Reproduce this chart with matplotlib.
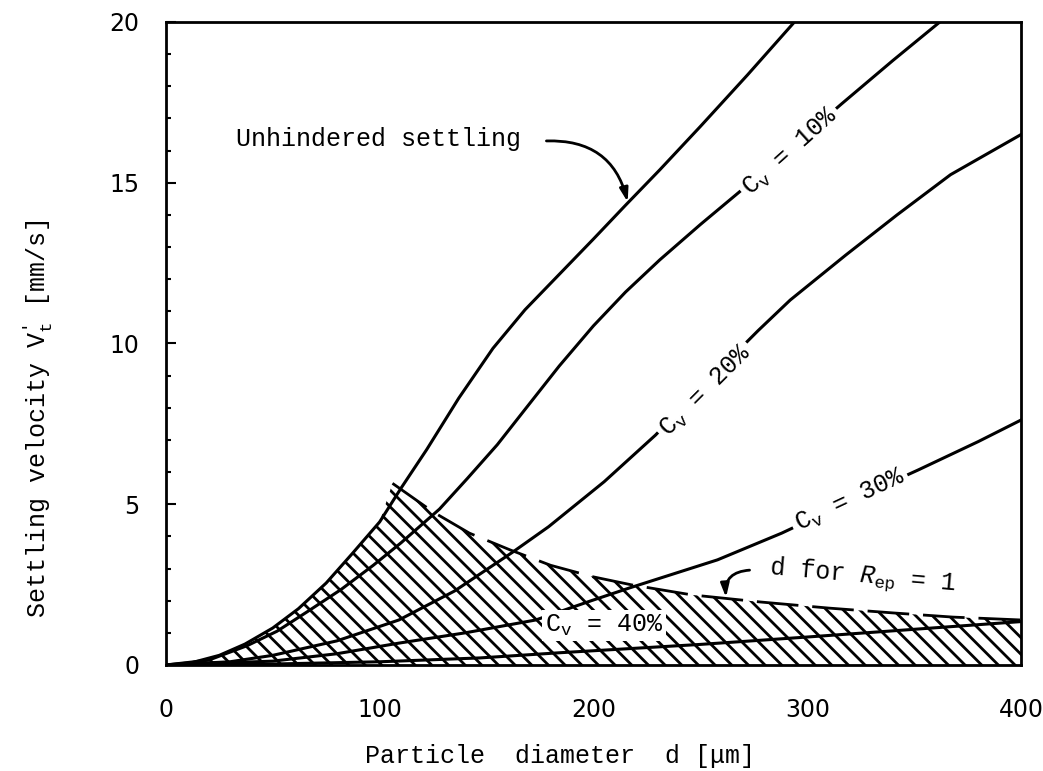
import matplotlib
matplotlib.use("Agg")
import matplotlib.pyplot as plt
import numpy as np
from matplotlib.ticker import MultipleLocator

plt.rcParams['mathtext.fontset'] = 'custom'
plt.rcParams['mathtext.rm'] = 'Liberation Mono'
plt.rcParams['mathtext.it'] = 'Liberation Mono:italic'
plt.rcParams['hatch.linewidth'] = 2.0
plt.rcParams['hatch.color'] = 'black'

# settling velocity curves, d in um, v in mm/s
unhindered_d = np.array([0, 12, 25, 37, 50, 62, 75, 87, 100, 110, 122, 137, 153, 168, 184,
                         200, 215, 231, 250, 272, 294])
unhindered_v = np.array([0, 0.07, 0.3, 0.65, 1.15, 1.75, 2.55, 3.45, 4.45, 5.5, 6.7, 8.3, 9.85,
                         11.05, 12.15, 13.25, 14.3, 15.4, 16.75, 18.35, 20.0])

cv10_d = np.array([0, 20, 38, 52, 66, 82, 97, 110, 128, 141, 155, 168, 184, 200, 215, 231,
                   250, 268, 290, 316, 340, 362])
cv10_v = np.array([0, 0.15, 0.6, 1.05, 1.65, 2.35, 3.1, 3.8, 4.85, 5.8, 6.85, 7.95, 9.3, 10.55,
                   11.6, 12.6, 13.7, 14.7, 15.95, 17.45, 18.8, 20.0])

cv20_d = np.array([0, 30, 50, 80, 109, 135, 162, 179, 205, 229, 253, 277, 292, 318, 342, 367, 400])
cv20_v = np.array([0, 0.1, 0.3, 0.75, 1.4, 2.3, 3.5, 4.3, 5.7, 7.15, 8.8, 10.4, 11.35, 12.75,
                   14.0, 15.25, 16.5])

cv30_d = np.array([0, 50, 80, 109, 140, 173, 199, 217, 258, 288, 320, 352, 380, 400])
cv30_v = np.array([0, 0.12, 0.35, 0.68, 1.0, 1.4, 2.0, 2.4, 3.27, 4.1, 5.1, 6.07, 6.95, 7.62])

cv40_d = np.array([0, 50, 100, 147, 184, 250, 300, 350, 400])
cv40_v = np.array([0, 0.03, 0.1, 0.22, 0.38, 0.64, 0.87, 1.11, 1.35])

# particle size where R_ep = 1
rep_d = np.array([106, 125, 142, 161, 180, 200, 218, 246, 278, 310, 340, 368, 400])
rep_v = np.array([5.65, 4.76, 4.1, 3.58, 3.1, 2.74, 2.49, 2.18, 1.96, 1.77, 1.62, 1.49, 1.40])

x_ticks = [0, 100, 200, 300, 400]
y_ticks = [0, 5, 10, 15, 20]

fig = plt.figure(figsize=(10.43, 7.71), dpi=100)
ax = fig.add_axes([0.159, 0.1375, 0.82, 0.834])

# hatched laminar region under the R_ep = 1 line
keep = unhindered_d < rep_d[0]
bound_d = np.concatenate([unhindered_d[keep], rep_d])
bound_v = np.concatenate([unhindered_v[keep], rep_v])
ax.fill_between(bound_d, 0, bound_v, facecolor='none', edgecolor='black',
                hatch='\\\\', linewidth=0, zorder=1)

for d, v in [(unhindered_d, unhindered_v), (cv10_d, cv10_v), (cv20_d, cv20_v),
             (cv30_d, cv30_v), (cv40_d, cv40_v)]:
    ax.plot(d, v, color='black', lw=2.2, zorder=2, solid_joinstyle='round')

ax.plot(rep_d, rep_v, color='black', lw=2.0, dashes=(15, 5), zorder=2)

mono = 'Liberation Mono'
box = dict(boxstyle='square,pad=0.15', fc='white', ec='none')
ax.text(292, 15.96, r'C$_{\rm v}$ = 10%', family=mono, fontsize=18, rotation=42,
        ha='center', va='center', rotation_mode='anchor', bbox=box, zorder=4)
ax.text(252.8, 8.5, r'C$_{\rm v}$ = 20%', family=mono, fontsize=18, rotation=45,
        ha='center', va='center', rotation_mode='anchor', bbox=box, zorder=4)
ax.text(320, 5.1, r'C$_{\rm v}$ = 30%', family=mono, fontsize=18, rotation=25,
        ha='center', va='center', rotation_mode='anchor', bbox=box, zorder=4)
ax.text(205, 1.22, r'C$_{\rm v}$ = 40%', family=mono, fontsize=18,
        ha='center', va='center', bbox=dict(boxstyle='square,pad=0.12', fc='white', ec='none'),
        zorder=4)
ax.text(326, 2.75, r'd for $R_{\rm ep}$ = $\mathit{1}$', family=mono, fontsize=18,
        rotation=-5, ha='center', va='center', rotation_mode='anchor', zorder=4)
ax.text(33, 16.14, 'Unhindered settling', family=mono, fontsize=18, ha='left', va='baseline')

arrow = dict(arrowstyle='-|>,head_length=0.8,head_width=0.25', color='black', lw=2,
             shrinkA=0, shrinkB=0)
ax.annotate('', xy=(216, 14.4), xytext=(178, 16.3),
            arrowprops=dict(arrow, connectionstyle='arc3,rad=-0.4'))
ax.annotate('', xy=(262, 2.1), xytext=(273, 2.95),
            arrowprops=dict(arrow, connectionstyle='arc3,rad=0.5'))

ax.set_xlim(0, 400)
ax.set_ylim(0, 20)
ax.set_xticks(x_ticks)
ax.set_yticks(y_ticks)
ax.yaxis.set_minor_locator(MultipleLocator(1))
ax.tick_params(axis='x', length=0, pad=24, labelsize=17)
ax.tick_params(axis='y', which='major', direction='in', length=7, width=1.5, pad=19, labelsize=17)
ax.tick_params(axis='y', which='minor', direction='in', length=3.6, width=1.5)
for s in ax.spines.values():
    s.set_linewidth(2.0)

fig.text(0.537, 0.02, 'Particle  diameter  d [\u03bcm]', family=mono, fontsize=18,
         ha='center', va='center')
fig.text(0.036, 0.457, r"Settling velocity V$_{\rm t}^{\prime}$ [mm/s]", family=mono,
         fontsize=18, rotation=90, ha='center', va='center')

fig.savefig('out.png', dpi=100)
